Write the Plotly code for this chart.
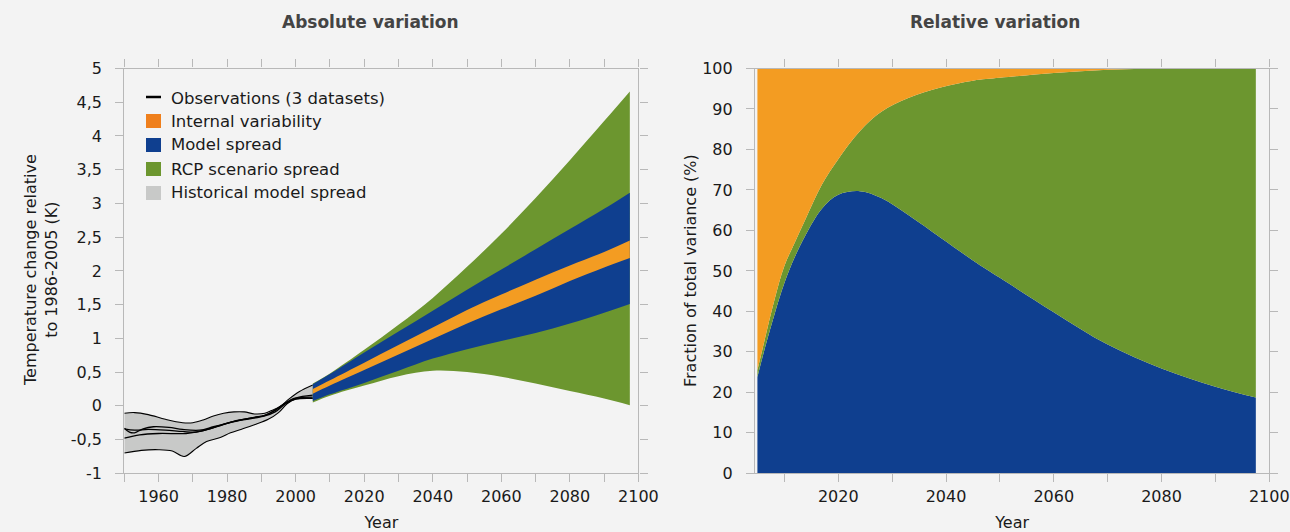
import plotly.graph_objects as go

# ---------------- data: absolute variation (left) ----------------
hist_upper_years = [1950, 1953, 1957, 1962, 1967, 1970, 1973, 1976, 1979, 1982, 1985, 1988, 1991, 1993, 1995.5, 1998, 2001, 2005]
hist_upper = [-0.11, -0.10, -0.13, -0.20, -0.25, -0.25, -0.21, -0.15, -0.11, -0.09, -0.09, -0.12, -0.11, -0.07, -0.01, 0.10, 0.21, 0.31]
hist_lower_years = [1950, 1955, 1960, 1964, 1967.5, 1971, 1974, 1978, 1981, 1984, 1988, 1992, 1995, 1997.5, 2000, 2005]
hist_lower = [-0.70, -0.66, -0.65, -0.67, -0.75, -0.63, -0.53, -0.47, -0.40, -0.35, -0.28, -0.20, -0.10, 0.03, 0.10, 0.11]

obs_a_years = [1950, 1951.5, 1953, 1955.5, 1958.5, 1963, 1967, 1972, 1976, 1980, 1984, 1988, 1991, 1994, 1997, 1999, 2002, 2005]
obs_a = [-0.33, -0.39, -0.40, -0.34, -0.31, -0.32, -0.35, -0.36, -0.31, -0.26, -0.21, -0.17, -0.14, -0.07, 0.04, 0.10, 0.14, 0.16]
obs_b_years = [1950, 1954.5, 1960, 1968, 1972, 1977, 1982, 1987, 1991, 1994, 1997, 2000, 2005]
obs_b = [-0.48, -0.43, -0.41, -0.41, -0.38, -0.31, -0.23, -0.18, -0.14, -0.06, 0.04, 0.10, 0.11]
obs_c_years = [1950, 1953, 1957, 1962, 1967, 1971, 1975, 1979, 1983, 1987, 1991, 1994, 1997, 2000, 2005]
obs_c = [-0.34, -0.36, -0.35, -0.36, -0.38, -0.39, -0.34, -0.27, -0.22, -0.19, -0.15, -0.09, 0.03, 0.11, 0.13]

proj_years = [2005, 2010, 2020, 2030, 2040, 2050, 2060, 2070, 2080, 2090, 2097.5]
rcp_upper = [0.33, 0.48, 0.83, 1.20, 1.60, 2.06, 2.55, 3.08, 3.64, 4.22, 4.66]
rcp_lower = [0.05, 0.15, 0.30, 0.44, 0.52, 0.50, 0.43, 0.33, 0.22, 0.11, 0.01]
model_upper = [0.32, 0.47, 0.79, 1.10, 1.41, 1.72, 2.02, 2.32, 2.62, 2.92, 3.16]
model_lower = [0.07, 0.17, 0.34, 0.52, 0.70, 0.84, 0.96, 1.08, 1.22, 1.38, 1.51]
intvar_upper = [0.25, 0.38, 0.64, 0.90, 1.16, 1.42, 1.65, 1.87, 2.08, 2.28, 2.45]
intvar_lower = [0.18, 0.30, 0.53, 0.76, 0.99, 1.22, 1.43, 1.63, 1.85, 2.05, 2.19]

# ---------------- data: relative variation (right) ----------------
frac_years = [2005, 2006, 2008, 2010, 2012, 2014, 2017, 2020, 2024, 2028, 2033, 2039, 2045, 2050, 2060, 2070, 2080, 2090, 2097.5]
model_share = [23.8, 29.0, 38.5, 47.0, 53.6, 59.0, 65.4, 68.8, 69.7, 68.0, 63.8, 58.2, 52.6, 48.3, 39.8, 31.8, 25.9, 21.4, 18.7]
scenario_share = [1.7, 2.0, 3.5, 4.2, 3.6, 4.0, 6.0, 8.8, 14.8, 21.3, 28.9, 37.1, 44.4, 49.4, 59.1, 67.9, 74.1, 78.6, 81.3]
internal_share = [74.5, 69.0, 58.0, 48.8, 42.8, 37.0, 28.6, 22.4, 15.5, 10.7, 7.3, 4.7, 3.0, 2.3, 1.1, 0.3, 0.0, 0.0, 0.0]

left_xticks = [1950, 1960, 1970, 1980, 1990, 2000, 2010, 2020, 2030, 2040, 2050, 2060, 2070, 2080, 2090, 2100]
left_xtext = ["", "1960", "", "1980", "", "2000", "", "2020", "", "2040", "", "2060", "", "2080", "", "2100"]
left_yticks = [-1, -0.5, 0, 0.5, 1, 1.5, 2, 2.5, 3, 3.5, 4, 4.5, 5]
left_ytext = ["-1", "-0,5", "0", "0,5", "1", "1,5", "2", "2,5", "3", "3,5", "4", "4,5", "5"]
right_xticks = [2010, 2020, 2030, 2040, 2050, 2060, 2070, 2080, 2090, 2100]
right_xtext = ["", "2020", "", "2040", "", "2060", "", "2080", "", "2100"]
right_yticks = [0, 10, 20, 30, 40, 50, 60, 70, 80, 90, 100]

legend_labels = ["Observations (3 datasets)", "Internal variability", "Model spread",
                 "RCP scenario spread", "Historical model spread"]

# ---------------- styling ----------------
BG = "#f3f3f3"
ORANGE = "#f39c22"
ORANGE_LEG = "#ef7f1c"
BLUE = "#0f3f8f"
GREEN = "#6c962f"
GRAY = "#c8c9c8"
AXIS = "#b8b8b8"
FONT = "DejaVu Sans"
W, H = 1290, 532

fig = go.Figure()

def band(x, lo, hi, color, xa, ya):
    fig.add_trace(go.Scatter(x=x, y=lo, mode="lines", line=dict(width=0, shape="spline", smoothing=1),
                             xaxis=xa, yaxis=ya, showlegend=False, hoverinfo="skip"))
    fig.add_trace(go.Scatter(x=x, y=hi, mode="lines", line=dict(width=0, shape="spline", smoothing=1),
                             fill="tonexty", fillcolor=color, xaxis=xa, yaxis=ya,
                             showlegend=False, hoverinfo="skip"))

# historical gray band with black outline
fig.add_trace(go.Scatter(x=hist_lower_years, y=hist_lower, mode="lines",
                         line=dict(color="black", width=1.1, shape="spline", smoothing=1),
                         xaxis="x", yaxis="y", showlegend=False))
fig.add_trace(go.Scatter(x=hist_upper_years, y=hist_upper, mode="lines",
                         line=dict(color="black", width=1.1, shape="spline", smoothing=1),
                         fill="tonexty", fillcolor=GRAY, xaxis="x", yaxis="y", showlegend=False))
for xs, ys in [(obs_a_years, obs_a), (obs_b_years, obs_b), (obs_c_years, obs_c)]:
    fig.add_trace(go.Scatter(x=xs, y=ys, mode="lines",
                             line=dict(color="black", width=1.3, shape="spline", smoothing=1),
                             xaxis="x", yaxis="y", showlegend=False))

band(proj_years, rcp_lower, rcp_upper, GREEN, "x", "y")
band(proj_years, model_lower, model_upper, BLUE, "x", "y")
band(proj_years, intvar_lower, intvar_upper, ORANGE, "x", "y")

# relative variation stacked areas
for vals, col in [(model_share, BLUE), (scenario_share, GREEN), (internal_share, ORANGE)]:
    fig.add_trace(go.Scatter(x=frac_years, y=vals, mode="lines", stackgroup="rel",
                             line=dict(width=0, shape="spline", smoothing=1, color=col),
                             fillcolor=col, xaxis="x2", yaxis="y2", showlegend=False, hoverinfo="skip"))

tickfont = dict(family=FONT, size=16, color="#1a1a1a")
common = dict(showline=True, linecolor=AXIS, linewidth=1.2, mirror="ticks", ticks="outside",
              ticklen=8, tickcolor=AXIS, tickwidth=1.2, showgrid=False, zeroline=False,
              tickfont=tickfont, automargin=False)
xtitle = dict(text="Year", font=dict(family=FONT, size=16, color="#1a1a1a"))

ydom = [1 - 473.3 / H, 1 - 68.5 / H]
fig.update_layout(
    width=W, height=H, margin=dict(l=0, r=0, t=0, b=0, autoexpand=False),
    paper_bgcolor=BG, plot_bgcolor=BG, showlegend=False,
    xaxis=dict(domain=[124.3 / W, 638.4 / W], range=[1950, 2100], tickmode="array",
               tickvals=left_xticks, ticktext=left_xtext, title=xtitle, **common),
    yaxis=dict(domain=ydom, range=[-1, 5], tickmode="array", tickvals=left_yticks,
               ticktext=left_ytext, ticklabelstandoff=10, **common),
    xaxis2=dict(domain=[755 / W, 1269.3 / W], range=[2004.55, 2100], tickmode="array",
                tickvals=right_xticks, ticktext=right_xtext, anchor="y2", title=xtitle, **common),
    yaxis2=dict(domain=ydom, range=[0, 100], tickmode="array", tickvals=right_yticks,
                anchor="x2", ticklabelstandoff=10, **common),
)

ann = []
def A(text, x, y, size=16, bold=False, angle=0, xanchor="center", yanchor="middle", color="#1a1a1a"):
    ann.append(dict(text=f"<b>{text}</b>" if bold else text, x=x / W, y=1 - y / H,
                    xref="paper", yref="paper", showarrow=False, textangle=angle,
                    xanchor=xanchor, yanchor=yanchor,
                    font=dict(family=FONT, size=size, color=color)))

A("Absolute variation", 370, 22, size=17, bold=True, color="#444444")
A("Relative variation", 995, 22, size=17, bold=True, color="#444444")
A("Temperature change relative<br>to 1986-2005 (K)", 41, 270, angle=-90)
A("Fraction of total variance (%)", 690, 270, angle=-90)

# legend
leg_y = [98, 121, 145, 169, 193]
leg_cols = [None, ORANGE_LEG, BLUE, GREEN, GRAY]
shapes = []
for lab, yy, col in zip(legend_labels, leg_y, leg_cols):
    A(lab, 169, yy, xanchor="left", size=16.5)
    if col is None:
        shapes.append(dict(type="line", xref="paper", yref="paper", x0=146 / W, x1=161 / W,
                           y0=1 - (yy - 1) / H, y1=1 - (yy - 1) / H, line=dict(color="black", width=2.5)))
    else:
        shapes.append(dict(type="rect", xref="paper", yref="paper", x0=146 / W, x1=161 / W,
                           y0=1 - (yy + 7) / H, y1=1 - (yy - 7) / H, fillcolor=col, line=dict(width=0)))

fig.update_layout(annotations=ann, shapes=shapes)
fig.write_html("out.html")
